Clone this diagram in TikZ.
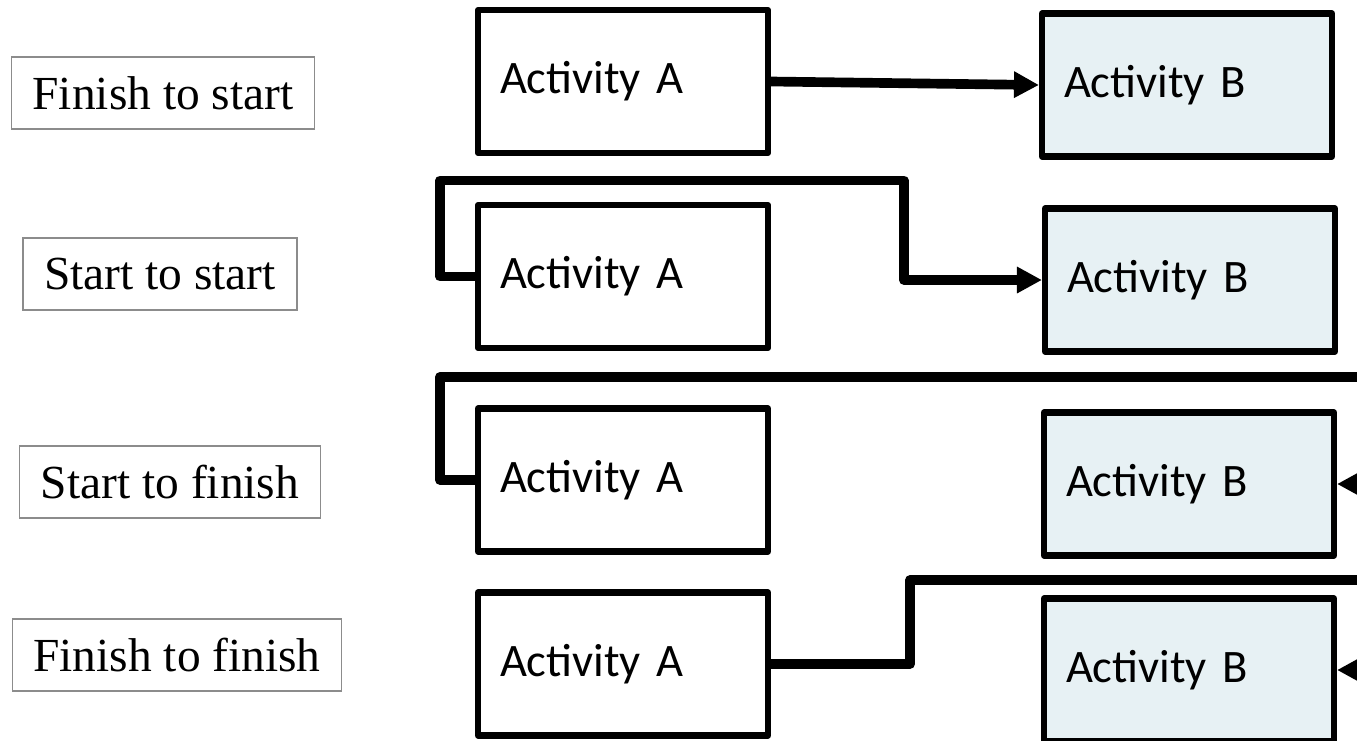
\documentclass[tikz,border=0pt]{standalone}
\usepackage{fontspec}
\setmainfont{Liberation Serif}
\newfontfamily\actfont{Carlito}
\usetikzlibrary{arrows.meta}
\definecolor{actfill}{HTML}{E7F1F4}
\definecolor{kindgray}{HTML}{8C8C8C}

\begin{document}
\begin{tikzpicture}[x=0.02cm, y=-0.02cm,
        kind/.style={draw=kindgray, line width=0.7pt, inner xsep=0.42cm, minimum height=1.44cm,
            font=\fontsize{27}{32}\selectfont},
        actbox/.style={draw=black, line width=3.5pt, line join=round, minimum width=5.8cm, minimum height=2.86cm,
            text width=4.92cm, inner xsep=0.44cm, align=left, font=\actfont\fontsize{26.5}{32}\selectfont},
        actboxb/.style={actbox, fill=actfill},
        link/.style={line width=5.5pt, line join=round},
        tip/.style={-{Triangle[length=0.5cm, width=0.5cm]}}]
        \useasboundingbox (0,0) rectangle (1357,741);
        \clip (0,0) rectangle (1357,741);

        \node[kind] (fs) at (163, 93) {Finish to start};
        \node[kind] (ss) at (160, 274) {Start to start};
        \node[kind] (sf) at (170, 482) {Start to finish};
        \node[kind] (ff) at (177, 655) {Finish to finish};

        \node[actbox] (a1) at (623, 81.5) {Activity A};
        \node[actboxb] (b1) at (1187, 85) {Activity B};
        \node[actbox] (a2) at (623, 276.5) {Activity A};
        \node[actboxb] (b2) at (1190, 280) {Activity B};
        \node[actbox] (a3) at (623, 480) {Activity A};
        \node[actboxb] (b3) at (1189, 484) {Activity B};
        \node[actbox] (a4) at (623, 664) {Activity A};
        \node[actboxb] (b4) at (1189, 670) {Activity B};

        \coordinate (top3) at (1400, 377);
        \coordinate (in3) at (1400, 484);
        \coordinate (top4) at (1400, 580);
        \coordinate (in4) at (1400, 670);

        \draw[link, tip] (a1.east) -- (b1.west);
        \draw[link, tip] (a2.west) -- ++(-35,0) |- ++(464,-96) |- (b2.west);
        \draw[link] (a3.west) -- ++(-35,0) |- (top3);
        \draw[link, tip] (in3) -- (b3.east);
        \draw[link] (a4.east) -- ++(139,0) |- (top4);
        \draw[link, tip] (in4) -- (b4.east);
\end{tikzpicture}
\end{document}
